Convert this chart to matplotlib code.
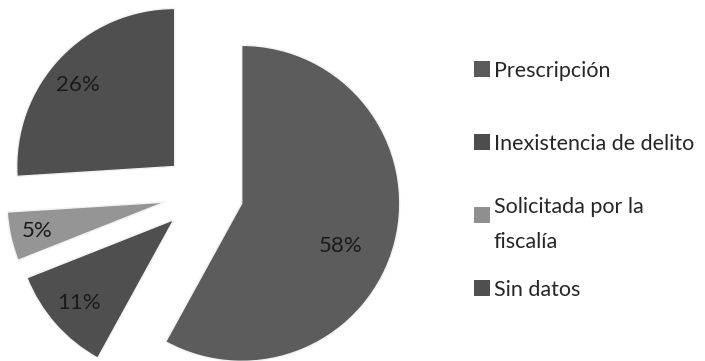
import numpy as np
import matplotlib
matplotlib.use("Agg")
import matplotlib.pyplot as plt
from matplotlib.patches import Rectangle

# motivos de archivo (porcentaje)
categorias = ["Prescripción", "Inexistencia de delito", "Solicitada por la\nfiscalía", "Sin datos"]
valores = [58, 11, 5, 26]
colores = ["#5c5c5c", "#4f4f4f", "#959595", "#4f4f4f"]
colores_leyenda = ["#5a5a5a", "#4d4d4d", "#8f8f8f", "#4f4f4f"]

# distancia / giro de cada etiqueta dentro de su porcion
dist_etiqueta = [0.68, 0.80, 0.83, 0.80]
giro_etiqueta = [-9, 0, 0, 3]

plt.rcParams['font.family'] = ['Lato', 'DejaVu Sans']

W, H = 705, 361
R = 158.0           # radio en pixeles
cx, cy = 203.5, 193.5  # centro (pixeles, y hacia abajo)

fig = plt.figure(figsize=(W / 100, H / 100), dpi=100)
ax = fig.add_axes([0, 0, 1, 1])

wedges, _ = ax.pie(valores, startangle=90, counterclock=False,
                   explode=[0.25] * len(valores), colors=colores,
                   wedgeprops=dict(edgecolor='#f2f2f2', linewidth=1))

# pie() fija sus propios limites, se reemplazan despues
ax.set_xlim(-cx / R, (W - cx) / R)
ax.set_ylim(-(H - cy) / R, cy / R)
ax.set_aspect('equal')
ax.axis('off')

for w, v, d, g in zip(wedges, valores, dist_etiqueta, giro_etiqueta):
    ang = np.deg2rad((w.theta1 + w.theta2) / 2 + g)
    x0, y0 = w.center
    ax.text(x0 + d * w.r * np.cos(ang), y0 + d * w.r * np.sin(ang), f"{v}%",
            ha='center', va='center', fontsize=16, color='#1a1a1a')

# leyenda a mano
for i, (lab, c) in enumerate(zip(categorias, colores_leyenda)):
    ypix = 69 + 73 * i
    yf = (H - ypix) / H
    fig.patches.append(Rectangle((474 / W, yf - 8 / H), 16 / W, 16 / H,
                                 transform=fig.transFigure, facecolor=c,
                                 edgecolor='none'))
    fig.text(494 / W, yf, lab, ha='left', va='center_baseline',
             fontsize=15.5, color='#262626', linespacing=1.95)

fig.savefig("out.png", dpi=100)
